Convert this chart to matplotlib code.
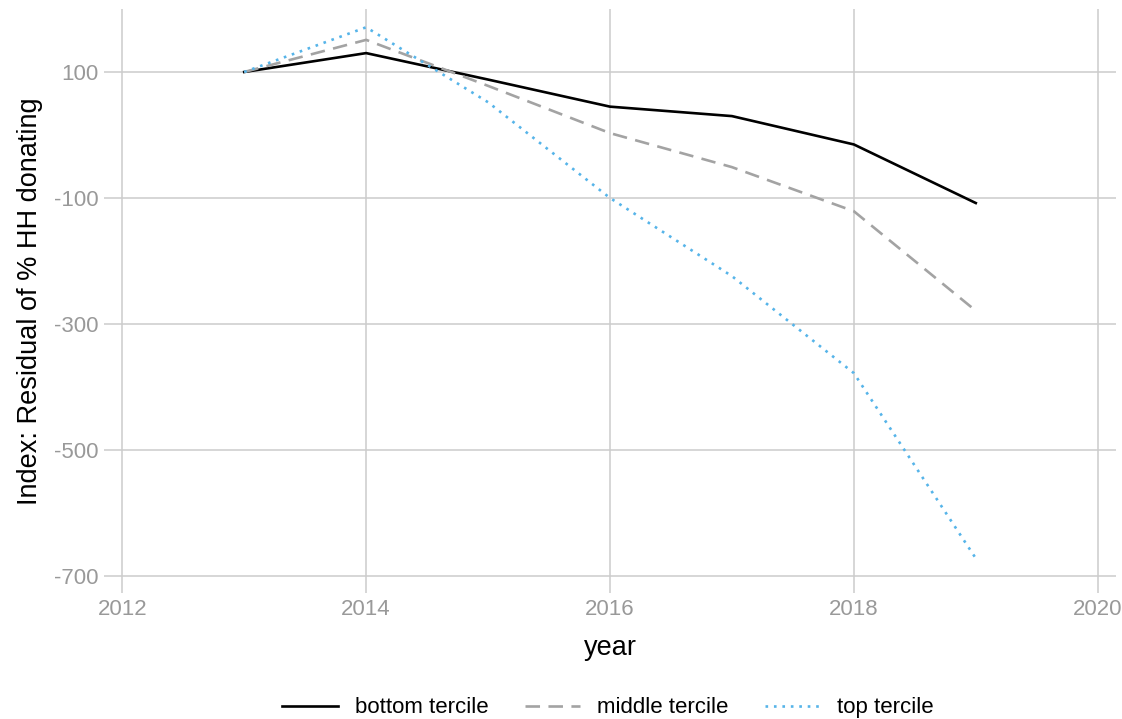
import matplotlib
matplotlib.use("Agg")
import matplotlib.pyplot as plt

years = [2013, 2014, 2015, 2016, 2017, 2018, 2019]
bottom_tercile = [100, 130, 88, 45, 30, -15, -108]
middle_tercile = [100, 151, 78, 3, -51, -121, -279]
top_tercile = [100, 171, 52, -100, -224, -378, -672]

series_names = ["bottom tercile", "middle tercile", "top tercile"]
xticks = [2012, 2014, 2016, 2018, 2020]
yticks = [100, -100, -300, -500, -700]

plt.rcParams['font.family'] = ['Liberation Sans', 'DejaVu Sans']

fig = plt.figure(figsize=(11.22, 7.19), dpi=100)
ax = fig.add_axes([104/1122, 1 - 593/719, (1116-104)/1122, (593-9)/719])

ax.plot(years, bottom_tercile, color='black', lw=1.9, label=series_names[0],
        solid_joinstyle='round')
ax.plot(years, middle_tercile, color='#A3A3A3', lw=1.9, dashes=(5.5, 3.2),
        label=series_names[1])
ax.plot(years, top_tercile, color='#56B4E9', lw=1.9, dashes=(1, 2.2),
        label=series_names[2])

ax.set_xlim(2011.85, 2020.15)
ax.set_ylim(-727, 200)
ax.set_xticks(xticks)
ax.set_yticks(yticks)
ax.set_yticklabels([str(v) for v in yticks])
ax.grid(True, color='#CCCCCC', lw=1.1)
ax.set_axisbelow(True)
for s in ax.spines.values():
    s.set_visible(False)
ax.tick_params(length=0, labelsize=16, labelcolor='#999999', pad=4)
ax.set_xlabel('year', fontsize=19.5, labelpad=11)
ax.set_ylabel('Index: Residual of % HH donating', fontsize=19.5, labelpad=8)

handles, labels = ax.get_legend_handles_labels()
fig.legend(handles, labels, loc='center', bbox_to_anchor=(0.542, 0.0155),
           ncol=3, frameon=False, fontsize=16, handlelength=2.5,
           handletextpad=0.75, columnspacing=1.65)

fig.savefig('out.png', dpi=100)
